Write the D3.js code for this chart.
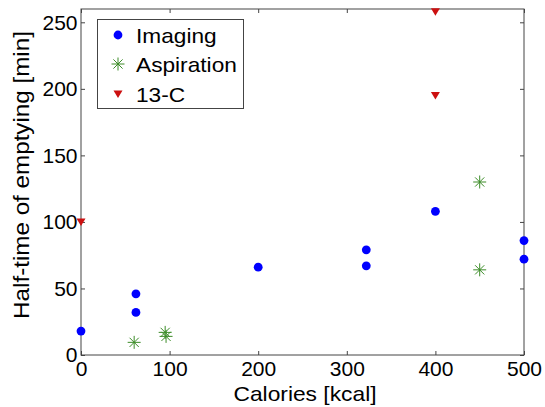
<!DOCTYPE html>
<html><head><meta charset="utf-8">
<script src="https://cdn.jsdelivr.net/npm/d3@7"></script>
<style>body{margin:0;background:#fff;} svg{display:block;font-family:"Liberation Sans",Arial,sans-serif;}</style>
</head><body>
<svg id="c" width="545" height="407"></svg>
<script>
const imagingX = [0, 62, 62, 200, 322, 322, 400, 500, 500];
const imagingY = [18, 46, 32, 66, 79, 67, 108, 86, 72];
const aspirationX = [60, 95, 96, 450, 450];
const aspirationY = [9.5, 17, 14, 130, 64];
const c13X = [0, 400, 400];
const c13Y = [100, 258, 195];
const xTicks = [0, 100, 200, 300, 400, 500];
const yTicks = [0, 50, 100, 150, 200, 250];
const seriesNames = ["Imaging", "Aspiration", "13-C"];

const svg = d3.select("#c");
const L = 81, R = 524, T = 9, B = 355;
const x = d3.scaleLinear().domain([0, 500]).range([L, R]);
const y = d3.scaleLinear().domain([0, 260]).range([B, T]);
const axisCol = "#444";
const FS = 21;

function stretch(sel, k) {
  sel.each(function () {
    const w = this.getComputedTextLength();
    d3.select(this).attr("textLength", w * k).attr("lengthAdjust", "spacingAndGlyphs");
  });
}

// frame
svg.append("rect").attr("x", L).attr("y", T).attr("width", R - L).attr("height", B - T)
  .attr("fill", "none").attr("stroke", axisCol).attr("stroke-width", 1);

function styleAxis(g) {
  g.select(".domain").remove();
  g.selectAll(".tick line").attr("stroke", axisCol);
  g.selectAll(".tick text").attr("fill", "#000").attr("font-size", FS)
    .attr("font-family", "Liberation Sans, Arial, sans-serif");
}
svg.append("g").attr("transform", `translate(0,${B})`)
  .call(d3.axisBottom(x).tickValues(xTicks).tickSize(-4).tickPadding(6)).call(styleAxis);
svg.append("g").attr("transform", `translate(0,${T})`)
  .call(d3.axisTop(x).tickValues(xTicks).tickSize(-4).tickFormat("")).call(styleAxis);
svg.append("g").attr("transform", `translate(${L},0)`)
  .call(d3.axisLeft(y).tickValues(yTicks).tickSize(-4).tickPadding(3.5)).call(styleAxis);
svg.append("g").attr("transform", `translate(${R},0)`)
  .call(d3.axisRight(y).tickValues(yTicks).tickSize(-4).tickFormat("")).call(styleAxis);

// labels
svg.append("text").attr("x", 305).attr("y", 401).attr("text-anchor", "middle")
  .attr("font-size", FS).text("Calories [kcal]").call(stretch, 1.085);
svg.append("text").attr("transform", `translate(29,175) rotate(-90)`)
  .attr("text-anchor", "middle").attr("font-size", 22).text("Half-time of emptying [min]")
  .call(stretch, 1.1);

const blue = "#0000ff", green = "#3c8c28", red = "#cc1010";
const starPath = (s) => {
  const r = s / 2, d = r * 0.7071;
  return `M${-r},0L${r},0M0,${-r}L0,${r}M${-d},${-d}L${d},${d}M${-d},${d}L${d},${-d}`;
};
const triPath = "M-4.5,-3.5L4.5,-3.5L0,4Z";

function drawCircle(g, cx, cy) {
  g.append("circle").attr("cx", cx).attr("cy", cy).attr("r", 4.4).attr("fill", blue);
}
function drawStar(g, cx, cy) {
  g.append("path").attr("transform", `translate(${cx},${cy})`).attr("d", starPath(13))
    .attr("stroke", green).attr("stroke-width", 1).attr("fill", "none");
}
function drawTri(g, cx, cy) {
  g.append("path").attr("transform", `translate(${cx},${cy})`).attr("d", triPath).attr("fill", red);
}

const marks = svg.append("g");
imagingX.forEach((v, i) => drawCircle(marks, x(v), y(imagingY[i])));
aspirationX.forEach((v, i) => drawStar(marks, x(v), y(aspirationY[i])));
c13X.forEach((v, i) => drawTri(marks, x(v), y(c13Y[i])));

// legend
const lg = svg.append("g");
lg.append("rect").attr("x", 97.5).attr("y", 19.5).attr("width", 146).attr("height", 89)
  .attr("fill", "#fff").attr("stroke", axisCol).attr("stroke-width", 1);
const ly = [35, 64, 94];
const drawers = [drawCircle, drawStar, drawTri];
seriesNames.forEach((n, i) => {
  drawers[i](lg, 118, ly[i]);
  lg.append("text").attr("x", 136).attr("y", ly[i] + 8).attr("font-size", FS).text(n)
    .call(stretch, 1.08);
});
</script>
</body></html>
